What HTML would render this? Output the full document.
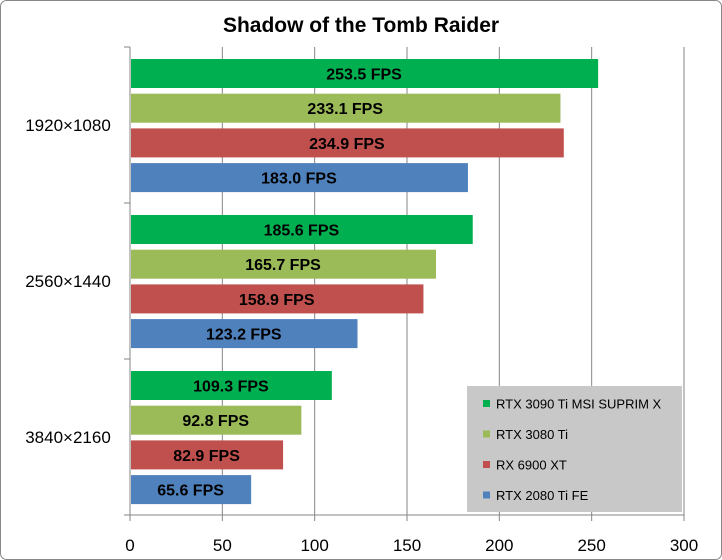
<!DOCTYPE html>
<html><head><meta charset="utf-8"><style>
html,body{margin:0;padding:0;background:#fff}
svg{display:block;font-family:"Liberation Sans",sans-serif}
</style></head><body>
<svg id="chart" width="722" height="560" viewBox="0 0 722 560">
<rect x="0.5" y="0.5" width="721" height="559" fill="#fff" stroke="#888" rx="6"/>
<text x="361" y="32" text-anchor="middle" font-size="21" font-weight="bold" fill="#000">Shadow of the Tomb Raider</text>
<g id="grid"></g>
<g id="bars"></g>
<g id="axes"></g>
<g>
<rect x="467" y="386" width="215" height="126" fill="#c8c8c8"/>
<g id="legend"></g>
</g>
</svg>
<script>
const categories=["1920×1080","2560×1440","3840×2160"];
const seriesNames=["RTX 3090 Ti MSI SUPRIM X","RTX 3080 Ti","RX 6900 XT","RTX 2080 Ti FE"];
const seriesColors=["#00b050","#9bbb59","#c0504d","#4f81bd"];
const s3090=[253.5,185.6,109.3];
const s3080=[233.1,165.7,92.8];
const s6900=[234.9,158.9,82.9];
const s2080=[183.0,123.2,65.6];
const xTicks=[0,50,100,150,200,250,300];
const series=[s3090,s3080,s6900,s2080];
const NS="http://www.w3.org/2000/svg";
const X0=130,X1=684,Y0=47,Y1=515,XMAX=300;
const gH=(Y1-Y0)/categories.length;
const xs=v=>X0+(v/XMAX)*(X1-X0);
function mk(t,a,p){const e=document.createElementNS(NS,t);for(const k in a)e.setAttribute(k,a[k]);p.appendChild(e);return e;}
const grid=document.getElementById('grid'),bars=document.getElementById('bars'),axes=document.getElementById('axes'),leg=document.getElementById('legend');
xTicks.forEach(t=>{
 const x=xs(t);
 if(t>0){const l=mk('line',{x1:x,x2:x,y1:Y0,y2:Y1,stroke:'#868686','stroke-width':1},grid);
 
 }
 const tk=mk('line',{x1:x,x2:x,y1:Y1,y2:Y1+6,stroke:'#868686'},axes);
 
 
 const tx=mk('text',{x:x,y:Y1+36,'text-anchor':'middle','font-size':17,fill:'#000'},axes);
 tx.textContent=t;
 
 
});
const ax=mk('line',{x1:X0,x2:X0,y1:Y0,y2:Y1,stroke:'#868686'},axes);


const bx=mk('line',{x1:X0-6,x2:X1,y1:Y1,y2:Y1,stroke:'#868686'},axes);


for(let i=0;i<=categories.length;i++){
 const y=Y0+i*gH;
 const t=mk('line',{x1:X0-6,x2:X0,y1:y,y2:y,stroke:'#868686'},axes);
 
 
}
categories.forEach((c,i)=>{
 const gy=Y0+i*gH;
 const tx=mk('text',{x:68,y:gy+gH/2+6,'text-anchor':'middle','font-size':17,fill:'#000'},axes);
 tx.textContent=c;
 
 
 series.forEach((s,j)=>{
  const y=gy+12+j*34.7, h=29, w=xs(s[i])-X0;
  const r=mk('rect',{x:X0+1,y:y,width:w-1,height:h,fill:seriesColors[j]},bars);
  
  
  const lt=mk('text',{x:X0+w/2,y:y+h/2+6,'text-anchor':'middle','font-size':16,'font-weight':'bold',fill:'#000'},bars);
  lt.textContent=s[i].toFixed(1)+' FPS';
  
  
 });
});
seriesNames.forEach((n,j)=>{
 const y=404+j*30.5;
 const sw=mk('rect',{x:483,y:y-4,width:7,height:7,fill:seriesColors[j]},leg);
 
 
 const t=mk('text',{x:496,y:y+4.5,'font-size':13,fill:'#000'},leg);
 t.textContent=n;
 
 
});
</script>
</body></html>
